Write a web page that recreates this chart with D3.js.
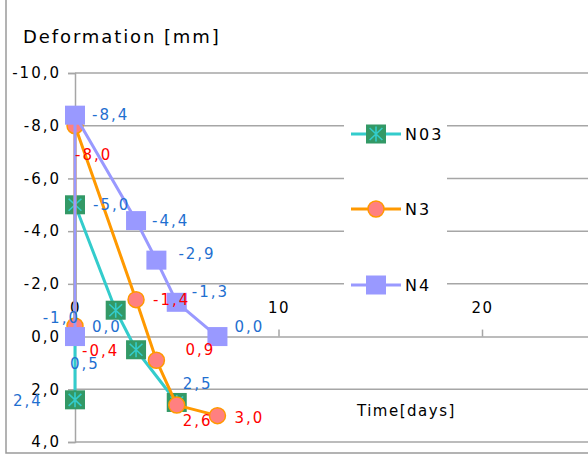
<!DOCTYPE html>
<html>
<head>
<meta charset="utf-8">
<script src="https://cdn.jsdelivr.net/npm/d3@7"></script>
<style>
  html, body { margin: 0; padding: 0; background: #fff; }
  svg { display: block; font-family: "DejaVu Sans", Verdana, sans-serif; }
</style>
</head>
<body>
<svg id="chart" width="588" height="455"></svg>
<script>
// Deformation readings per measuring point: time in days and deformation in mm
const n03Days = [0, 0, 2, 3, 5];
const n03Vals = [2.4, -5.0, -1.0, 0.5, 2.5];
const n3Days = [0, 0, 3, 4, 5, 7];
const n3Vals = [-0.4, -8.0, -1.4, 0.9, 2.6, 3.0];
const n4Days = [0, 0, 3, 4, 5, 7];
const n4Vals = [0.0, -8.4, -4.4, -2.9, -1.3, 0.0];

const seriesNames = ["N03", "N3", "N4"];
const yTicks = [-10, -8, -6, -4, -2, 0, 2, 4];
const xTicks = [0, 10, 20];

// Hand-placed nudges of the value labels (px from each marker)
const n03LabelNudge = [[-62, 1], [18, 0], [-73, 8], [-66, 14], [6, -18]];
const n3LabelNudge = [[7, 25], [0, 29], [17, 0], [29, -10], [6, 16], [17, 2]];
const n4LabelNudge = [[17, -10], [17, 0], [16, 0], [22, -6], [15, -10], [17, -10]];

const svg = d3.select("#chart");
const W = 588, H = 455;

const x = d3.scaleLinear().domain([0, 30]).range([75, 75 + 30 * 20.35]);
const y = d3.scaleLinear().domain([-10, 4]).range([73, 442]);

const fmt = v => d3.format(".1f")(v).replace(".", ",").replace("−", "-");
const gridColor = "#a6a6a6";

// chart frame (left and bottom edges)
svg.append("path")
  .attr("d", `M6,0 V453 H${W}`)
  .attr("fill", "none").attr("stroke", "#9a9a9a").attr("stroke-width", 1.5);

// horizontal gridlines
svg.append("g").selectAll("line").data(yTicks.filter(t => t !== 0)).join("line")
  .attr("x1", 75).attr("x2", W)
  .attr("y1", d => y(d)).attr("y2", d => y(d))
  .attr("stroke", gridColor).attr("stroke-width", 1.5);

// y axis
const yAxis = svg.append("g").attr("transform", `translate(${x(0)},0)`)
  .call(d3.axisLeft(y).tickValues(yTicks).tickSize(7).tickPadding(9).tickFormat(fmt));
yAxis.select(".domain").attr("stroke", gridColor).attr("stroke-width", 1.5);
yAxis.selectAll(".tick line").attr("stroke", gridColor).attr("stroke-width", 1.5);
yAxis.selectAll(".tick text")
  .attr("fill", "#000").attr("font-size", 15).attr("letter-spacing", "2px")
  .attr("font-family", "DejaVu Sans, sans-serif").attr("dx", "2px");

// x axis crossing at zero deformation, tick labels above
const xAxis = svg.append("g").attr("transform", `translate(0,${y(0)})`)
  .call(d3.axisTop(x).tickValues(xTicks).tickSize(7).tickPadding(17).tickFormat(d3.format("d")));
xAxis.select(".domain").attr("stroke", gridColor).attr("stroke-width", 1.5);
xAxis.selectAll(".tick line").attr("stroke", gridColor).attr("stroke-width", 1.5);
xAxis.selectAll(".tick text")
  .attr("fill", "#000").attr("font-size", 15).attr("letter-spacing", "1.5px")
  .attr("font-family", "DejaVu Sans, sans-serif");

// axis titles
svg.append("text").attr("x", 23).attr("y", 36).attr("dominant-baseline", "central")
  .attr("font-size", 18).attr("letter-spacing", "1.9px").attr("fill", "#000")
  .text("Deformation [mm]");
svg.append("text").attr("x", 357).attr("y", 411).attr("dominant-baseline", "central")
  .attr("font-size", 15).attr("letter-spacing", "1.5px").attr("fill", "#000")
  .text("Time[days]");

const series = [
  { name: seriesNames[0], days: n03Days, vals: n03Vals, nudge: n03LabelNudge,
    line: "#33cccc", marker: "star", fill: "#339966", labelColor: "#1f6fd0" },
  { name: seriesNames[1], days: n3Days, vals: n3Vals, nudge: n3LabelNudge,
    line: "#ff9900", marker: "circle", fill: "#ff8080", labelColor: "#ff0000" },
  { name: seriesNames[2], days: n4Days, vals: n4Vals, nudge: n4LabelNudge,
    line: "#9999ff", marker: "square", fill: "#9999ff", labelColor: "#1f6fd0" }
];

function drawMarker(g, type, cx, cy, s) {
  if (type === "star") {
    g.append("rect").attr("x", cx - 10).attr("y", cy - 9.5).attr("width", 20).attr("height", 19)
      .attr("fill", s.fill);
    const r = 7.5;
    const d = `M${cx},${cy - r}V${cy + r}M${cx - r * 0.85},${cy - r * 0.8}L${cx + r * 0.85},${cy + r * 0.8}` +
              `M${cx + r * 0.85},${cy - r * 0.8}L${cx - r * 0.85},${cy + r * 0.8}`;
    g.append("path").attr("d", d).attr("stroke", s.line).attr("stroke-width", 1.6).attr("fill", "none");
  } else if (type === "circle") {
    g.append("circle").attr("cx", cx).attr("cy", cy).attr("r", 8)
      .attr("fill", s.fill).attr("stroke", s.line).attr("stroke-width", 1.5);
  } else {
    g.append("rect").attr("x", cx - 10).attr("y", cy - 9.5).attr("width", 20).attr("height", 19)
      .attr("fill", s.fill);
  }
}

const plot = svg.append("g");
const lineGen = d3.line().x(d => x(d[0])).y(d => y(d[1]));

series.forEach(s => {
  const pts = s.days.map((d, i) => [d, s.vals[i]]);
  const g = plot.append("g");
  g.append("path").attr("d", lineGen(pts))
    .attr("fill", "none").attr("stroke", s.line).attr("stroke-width", 3)
    .attr("stroke-linejoin", "round");
  pts.forEach(p => drawMarker(g, s.marker, x(p[0]), y(p[1]), s));
});

// value labels on top of all series
const labels = svg.append("g");
series.forEach(s => {
  s.days.forEach((d, i) => {
    labels.append("text")
      .attr("x", x(d) + s.nudge[i][0])
      .attr("y", y(s.vals[i]) + s.nudge[i][1])
      .attr("dominant-baseline", "central")
      .attr("font-size", 15).attr("letter-spacing", "2px")
      .attr("fill", s.labelColor)
      .text(fmt(s.vals[i]));
  });
});

// legend
const legend = svg.append("g");
legend.append("rect").attr("x", 344).attr("y", 100).attr("width", 103).attr("height", 210).attr("fill", "#fff");
const legendY = [134, 209, 285];
series.forEach((s, i) => {
  const ly = legendY[i];
  legend.append("line").attr("x1", 351).attr("x2", 401).attr("y1", ly).attr("y2", ly)
    .attr("stroke", s.line).attr("stroke-width", 3);
  drawMarker(legend, s.marker, 376, ly, s);
  legend.append("text").attr("x", 405).attr("y", ly).attr("dominant-baseline", "central")
    .attr("font-size", 16).attr("letter-spacing", "2px").attr("fill", "#000")
    .text(s.name);
});
</script>
</body>
</html>
